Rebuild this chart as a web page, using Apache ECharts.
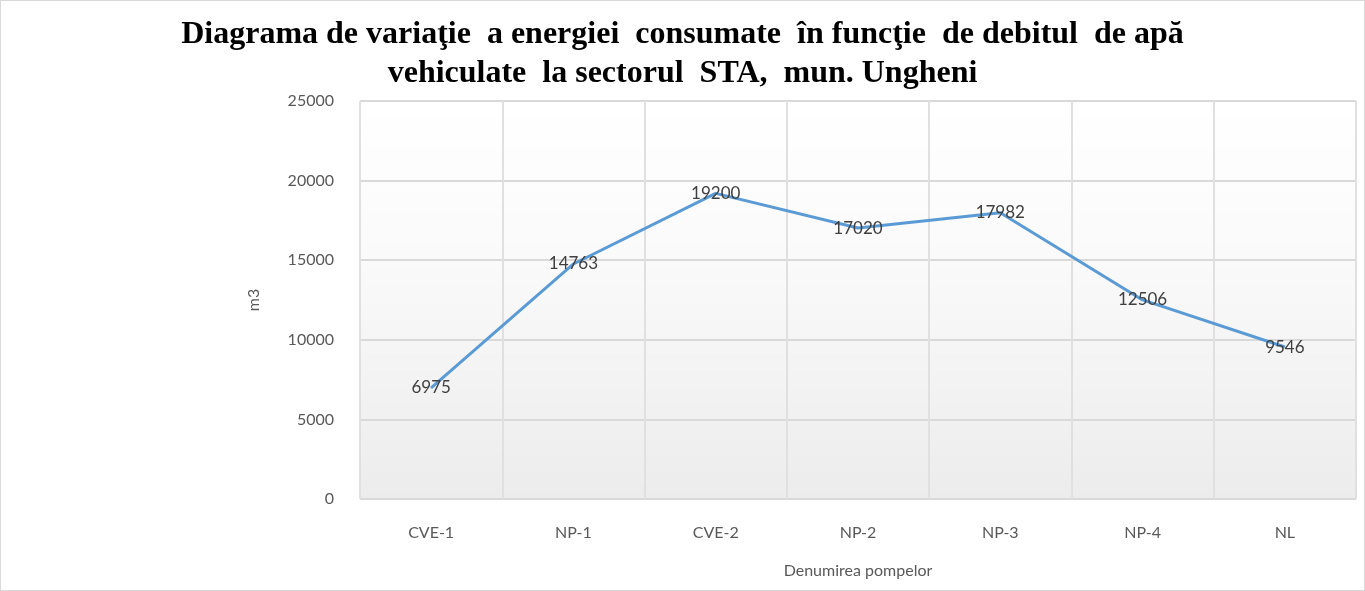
<!DOCTYPE html>
<html>
<head>
<meta charset="utf-8">
<script src="https://cdn.jsdelivr.net/npm/echarts@6/dist/echarts.min.js"></script>
<style>
  html, body { margin: 0; padding: 0; background: #fff; }
  #chart { width: 1365px; height: 591px; box-sizing: border-box; border: 1px solid #d9d9d9; }
</style>
</head>
<body>
<div id="chart"></div>
<script>
// pump names and consumed volume (m3)
var pumps = ['CVE-1', 'NP-1', 'CVE-2', 'NP-2', 'NP-3', 'NP-4', 'NL'];
var volumes = [6975, 14763, 19200, 17020, 17982, 12506, 9546];
var titleLines = [
  'Diagrama de variaţie  a energiei  consumate  în funcţie  de debitul  de apă',
  'vehiculate  la sectorul  STA,  mun. Ungheni'
];

var myChart = echarts.init(document.getElementById('chart'));
var axisFont = 'Lato, "Open Sans", sans-serif';

var option = {
  backgroundColor: '#ffffff',
  title: {
    text: titleLines.join('\n'),
    left: 'center',
    top: 9,
    textStyle: {
      fontFamily: '"Liberation Serif", "DejaVu Serif", serif',
      fontWeight: 'bold',
      fontSize: 32,
      lineHeight: 39,
      color: '#000'
    }
  },
  grid: {
    left: 359,
    right: 8,
    top: 100,
    bottom: 91,
    show: true,
    borderWidth: 0,
    backgroundColor: new echarts.graphic.LinearGradient(0, 0, 0, 1, [
      { offset: 0, color: '#ffffff' },
      { offset: 0.4, color: '#fafafa' },
      { offset: 1, color: '#ececec' }
    ])
  },
  xAxis: {
    type: 'category',
    data: pumps,
    boundaryGap: true,
    name: 'Denumirea pompelor',
    nameLocation: 'middle',
    nameGap: 64,
    nameTextStyle: { fontFamily: axisFont, fontSize: 16, color: '#595959' },
    axisLine: { show: false },
    axisTick: { show: false },
    axisLabel: { fontFamily: axisFont, fontSize: 16, color: '#595959', margin: 26 },
    splitLine: { show: true, lineStyle: { color: '#e0e0e0', width: 2 } }
  },
  yAxis: {
    type: 'value',
    min: 0,
    max: 25000,
    interval: 5000,
    name: 'm3',
    nameLocation: 'middle',
    nameGap: 98,
    nameTextStyle: { fontFamily: axisFont, fontSize: 16, color: '#595959' },
    axisLine: { show: false },
    axisTick: { show: false },
    axisLabel: {
      fontFamily: axisFont, fontSize: 16, color: '#595959', margin: 26,
      formatter: function (v) { return String(v); }
    },
    splitLine: { lineStyle: { color: '#d9d9d9', width: 2 } }
  },
  series: [{
    type: 'line',
    data: volumes,
    showSymbol: true,
    symbol: 'circle',
    symbolSize: 1,
    lineStyle: { color: '#5b9bd5', width: 3 },
    itemStyle: { color: '#5b9bd5' },
    label: {
      show: true,
      position: 'inside',
      fontFamily: axisFont,
      fontSize: 17,
      color: '#404040'
    },
    animation: false
  }],
  animation: false
};
myChart.setOption(option);
</script>
</body>
</html>
